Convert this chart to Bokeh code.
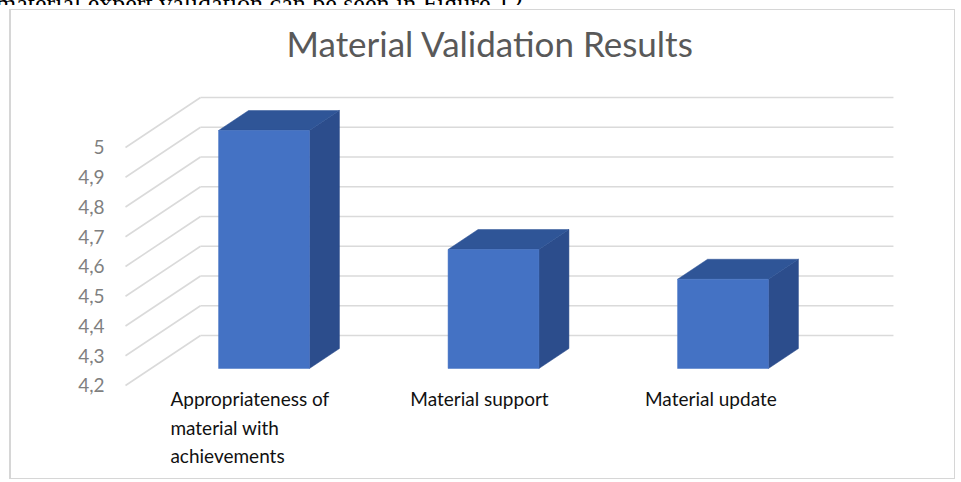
from bokeh.plotting import figure
from bokeh.models import FixedTicker, Range1d, Div
from bokeh.layouts import column
from bokeh.core.properties import value
from bokeh.embed import file_html
from bokeh.resources import INLINE

# ---- data ----
categories = ["Appropriateness of\nmaterial with\nachievements", "Material support", "Material update"]
scores = [5.0, 4.6, 4.5]
tick_values = [4.2, 4.3, 4.4, 4.5, 4.6, 4.7, 4.8, 4.9, 5.0]
tick_labels = ["4,2", "4,3", "4,4", "4,5", "4,6", "4,7", "4,8", "4,9", "5"]
title_text = "Material Validation Results"
page_text = "material expert validation can be seen in Figure 12."

# ---- 3D projection settings (oblique) ----
BASE = tick_values[0]
DX = 0.3268      # horizontal shift of full depth, in category units
DY = 0.168       # vertical shift of full depth, in value units
D1, D2 = 0.34, 0.74   # bar depth span (fraction of wall depth)
HALF = 0.198     # half bar width, category units
WALL_X = -0.4924
BACK_X = 2.527


def proj(x, v, d):
    return x + d * DX, v + d * DY


p = figure(width=960, height=476, output_backend="svg", toolbar_location=None,
           x_range=Range1d(-0.5142, 3.0806), y_range=Range1d(3.8941, 5.2655),
           x_axis_type=None, min_border_left=120, min_border_right=15,
           min_border_top=63, min_border_bottom=5, title=title_text)

g = "linear-gradient(#d6d6d6,#d6d6d6)"
p.styles = {
    "background-color": "white",
    "background-image": ", ".join([g] * 4),
    "background-position": "9px 4px, 9px 473px, 9px 4px, 954px 4px",
    "background-size": "946px 1px, 946px 1px, 2px 470px, 1px 470px",
    "background-repeat": "no-repeat",
}
p.outline_line_color = None
p.background_fill_color = None
p.border_fill_color = None
p.grid.visible = False

# title
p.title.text_font = "Lato"
p.title.text_font_size = "35px"
p.title.text_font_style = "normal"
p.title.text_color = "#595959"
p.title.align = "left"
p.title.offset = 166
p.title.standoff = 9

# y axis
p.yaxis.ticker = FixedTicker(ticks=tick_values)
p.yaxis.major_label_overrides = dict(zip(tick_values, tick_labels))
p.yaxis.axis_line_color = None
p.yaxis.major_tick_line_color = None
p.yaxis.minor_tick_line_color = None
p.yaxis.major_label_standoff = 10
p.yaxis.major_label_text_font = "Lato"
p.yaxis.major_label_text_font_size = "19px"
p.yaxis.major_label_text_color = "#7f7f7f"

# walls: side diagonals and back horizontals
wall_xs, wall_ys = [], []
for t in tick_values:
    x0, y0 = proj(WALL_X, t, 0)
    x1, y1 = proj(WALL_X, t, 1)
    x2, y2 = proj(BACK_X, t, 1)
    wall_xs.append([x0, x1])
    wall_ys.append([y0, y1])
    wall_xs.append([x1, x2])
    wall_ys.append([y1, y2])
p.multi_line(wall_xs, wall_ys, line_color="#dadada", line_width=1.6)

# bars
fx, fy, tx, ty, sx, sy = [], [], [], [], [], []
for i, v in enumerate(scores):
    l, r = i - HALF, i + HALF
    a = proj(l, BASE, D1); b = proj(r, BASE, D1); c = proj(r, v, D1); d = proj(l, v, D1)
    fx.append([a[0], b[0], c[0], d[0]]); fy.append([a[1], b[1], c[1], d[1]])
    e = proj(r, v, D2); f = proj(l, v, D2)
    tx.append([d[0], c[0], e[0], f[0]]); ty.append([d[1], c[1], e[1], f[1]])
    gb = proj(r, BASE, D2)
    sx.append([b[0], gb[0], e[0], c[0]]); sy.append([b[1], gb[1], e[1], c[1]])

p.patches(sx, sy, fill_color="#2C4D8C", line_color="#2C4D8C", line_width=0.5)
p.patches(tx, ty, fill_color="#2F5597", line_color="#2F5597", line_width=0.5)
p.patches(fx, fy, fill_color="#4472C4", line_color="#4472C4", line_width=0.5)

# category labels
CHAR_PX = 5.2
label_x = [i + D1 * DX for i in range(len(categories))]
label_off = [-CHAR_PX * max(len(s) for s in c.split("\n")) for c in categories]
p.text(x=label_x, y=[BASE] * len(categories), text=categories, x_offset=label_off,
       y_offset=2, text_font=value("Lato"), text_font_size="19px", text_color="#111111",
       text_align="left", text_baseline="top", text_line_height=1.23)

# cropped line of the surrounding document just above the chart
page_line = Div(
    text=('<div style="font-family:\'Liberation Serif\';font-size:26px;line-height:26px;'
          'margin-top:-17px;margin-left:-4px;white-space:nowrap;color:black;">'
          + page_text + '</div>'),
    width=960, height=5, margin=0,
    styles={"overflow": "hidden", "background-color": "white"},
)

layout = column(page_line, p, spacing=0, margin=0)
open("out.html", "w").write(file_html(layout, INLINE))
